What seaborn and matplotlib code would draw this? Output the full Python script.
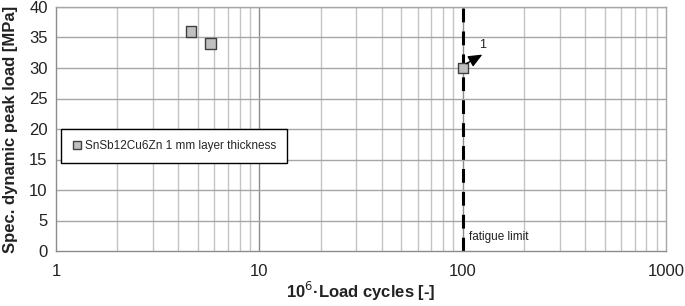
import matplotlib
matplotlib.use("Agg")
import matplotlib.pyplot as plt
import seaborn as sns
import pandas as pd
import numpy as np
from matplotlib.ticker import FixedLocator, NullFormatter

sns.set_theme(style="white")
plt.rcParams['font.family'] = ['Liberation Sans', 'DejaVu Sans']

cycles = [4.6, 5.75, 100]
load = [36, 34, 30]
series_name = "SnSb12Cu6Zn 1 mm layer thickness"
fatigue_limit = 100
x_ticks = [1, 10, 100, 1000]
y_ticks = [0, 5, 10, 15, 20, 25, 30, 35, 40]

df = pd.DataFrame({"cycles": cycles, "load": load, "series": series_name})

fig = plt.figure(figsize=(6.85, 3.06), dpi=100)
ax = fig.add_axes([56/685, 1 - 251/306, 610/685, 244/306])

ax.set_xscale("log")
ax.set_xlim(1, 1000)
ax.set_ylim(0, 40)

# grid
minor = [m * 10**e for e in range(0, 3) for m in range(2, 10)]
for v in minor:
    ax.axvline(v, color="#c4c4c4", lw=1.0, zorder=0)
for v in [10, 100]:
    ax.axvline(v, color="#8c8c8c", lw=1.0, zorder=0)
for v in y_ticks[1:]:
    ax.axhline(v, color="#a6a6a6", lw=1.0, zorder=0)

ax.axvline(fatigue_limit, color="black", lw=2.2, ls=(0, (4.5, 3)), zorder=2)

sns.scatterplot(data=df, x="cycles", y="load", hue="series", palette=["#c0c0c0"],
                marker="s", s=55, edgecolor="#404040", linewidth=1.0, ax=ax, zorder=3)

ax.annotate("", xy=(125, 32.2), xytext=(104, 30.7),
            arrowprops=dict(arrowstyle="-|>,head_length=0.7,head_width=0.3", color="black",
                            lw=1.0, shrinkA=0, shrinkB=0),
            zorder=4)
ax.text(121, 33.7, "1", fontsize=9, color="#222222", va="center")
ax.text(108, 1.8, "fatigue limit", fontsize=8.5, color="#222222")

ax.set_xticks(x_ticks)
ax.set_xticklabels(["1", "10", "100", "1000"])
ax.xaxis.set_minor_locator(FixedLocator([]))
ax.xaxis.set_minor_formatter(NullFormatter())
ax.set_yticks(y_ticks)
ax.tick_params(axis="x", which="major", length=4, width=1, color="#8c8c8c", labelsize=12,
               pad=5, labelcolor="#222222")
ax.tick_params(axis="y", which="major", length=4, width=1, color="#8c8c8c", labelsize=12,
               pad=2, labelcolor="#222222")

for s in ax.spines.values():
    s.set_color("#a6a6a6")
    s.set_linewidth(1.0)
ax.spines["bottom"].set_color("#8c8c8c")
ax.spines["left"].set_color("#8c8c8c")

ax.set_xlabel("10$^{6}$·Load cycles [-]", fontsize=12, fontweight="bold", color="#222222", labelpad=1)
ax.set_ylabel("Spec. dynamic peak load [MPa]", fontsize=12, fontweight="bold", color="#222222", labelpad=8)

leg = ax.legend(loc="upper left", bbox_to_anchor=(5/610, 122/244), frameon=True, fancybox=False,
                fontsize=8.5, handletextpad=0.25, handlelength=0.8, borderpad=0.95,
                markerscale=0.8, borderaxespad=0)
leg.get_frame().set_edgecolor("black")
leg.get_frame().set_linewidth(1.0)
leg.get_frame().set_alpha(1)
leg.set_zorder(5)

fig.savefig("out.png", dpi=100)
